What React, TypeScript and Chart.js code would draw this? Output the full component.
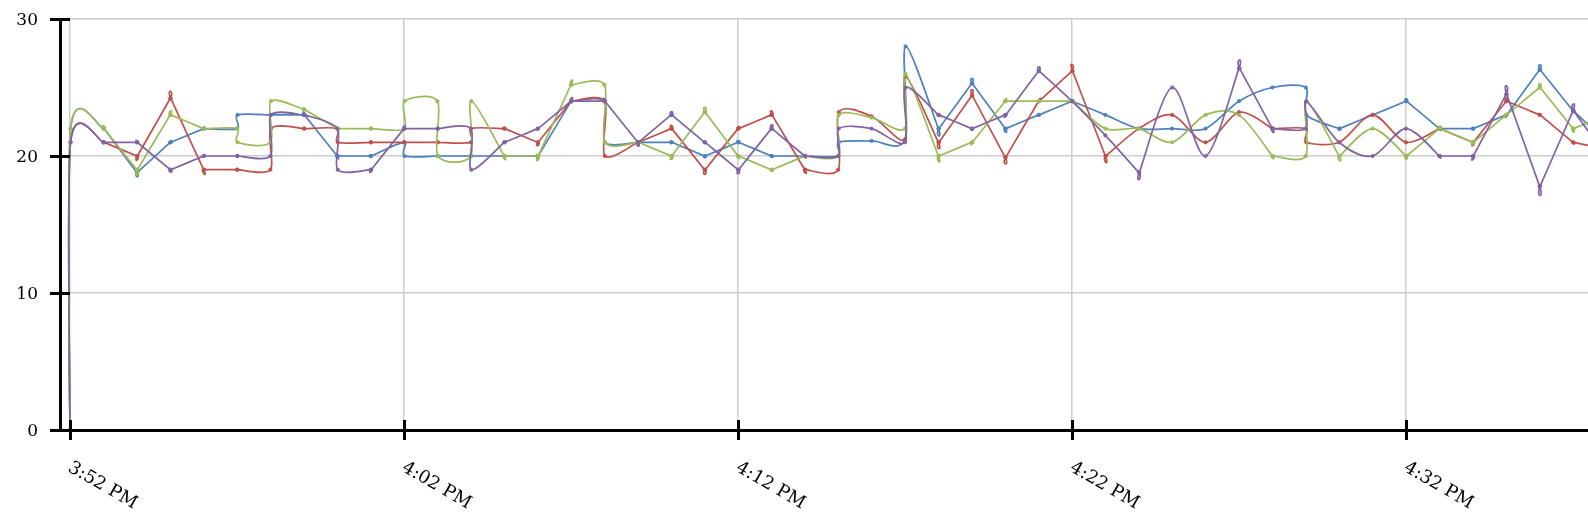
import React, { useEffect, useRef } from "react";
import { Chart, registerables } from "chart.js";

Chart.register(...registerables);

// One reading at the start of every minute, and (where present) a second reading one second later.
const timeLabels = [
  "3:52 PM", "3:53 PM", "3:54 PM", "3:55 PM", "3:56 PM", "3:57 PM", "3:58 PM", "3:59 PM",
  "4:00 PM", "4:01 PM", "4:02 PM", "4:03 PM", "4:04 PM", "4:05 PM", "4:06 PM", "4:07 PM",
  "4:08 PM", "4:09 PM", "4:10 PM", "4:11 PM", "4:12 PM", "4:13 PM", "4:14 PM", "4:15 PM",
  "4:16 PM", "4:17 PM", "4:18 PM", "4:19 PM", "4:20 PM", "4:21 PM", "4:22 PM", "4:23 PM",
  "4:24 PM", "4:25 PM", "4:26 PM", "4:27 PM", "4:28 PM", "4:29 PM", "4:30 PM", "4:31 PM",
  "4:32 PM", "4:33 PM", "4:34 PM", "4:35 PM", "4:36 PM", "4:37 PM", "4:38 PM",
];

const xTickLabels = ["3:52 PM", "4:02 PM", "4:12 PM", "4:22 PM", "4:32 PM"];
const yTickValues = [0, 10, 20, 30];

const blueFirst = [0, 22, 18.8, 21, 22, 22, 23, 23, 20, 20, 21, 20, 20, 20, 20, 24, 24, 21, 21, 20, 21, 20, 20, 20, 21.1, 21.2, 22, 25.3, 22, 23, 24, 23, 22, 22, 22, 24, 25, 25, 22, 23, 24, 22, 22, 23, 26.3, 23.3, 21];
const blueSecond = [22, 22, 18.8, 21, 22, 23, 23, 23, 20, 20, 20, 20, 20, 20, 20, 24, 21, 21, 21, 20, 21, 20, 20, 21, null, 28, 22, 25.3, 22, 23, 24, null, null, null, null, null, null, 23, 22, 23, 24, 22, 22, 23, 26.3, 23.3, null];

const redFirst = [0, 21, 20, 24.2, 19, 19, 19, 22, 22, 21, 21, 21, 21, 22, 21, 24, 24, 21, 22, 19, 22, 23, 19, 19, 22.9, 21.2, 21, 24.4, 19.9, 24, 26.2, 20, 22, 23, 21, 23.2, 22, 22, 21, 23, 21, 22, 21, 24, 23, 21, 20.5];
const redSecond = [21, 21, 20, 24.2, 19, 19, 22, 22, 21, 21, 21, 21, 22, 22, 21, 24, 20, 21, 22, 19, 22, 23, 19, 23.2, null, 25.8, 21, 24.4, 19.9, 24, 26.2, 20, null, null, null, null, 22, 21, null, null, null, 22, 21, 24, 23, 21, null];

const greenFirst = [0, 22, 19, 23, 22, 22, 21, 23.4, 22, 22, 22, 24, 20, 20, 20, 25.2, 25.2, 21, 20, 23.2, 20, 19, 20, 20, 22.8, 22, 20, 21, 24, 24, 24, 22, 22, 21, 23, 23, 20, 20, 20, 22, 20, 22, 21, 23, 25, 22, 23];
const greenSecond = [22, 22, 19, 23, 22, 21, 24, 23.4, 22, 22, 24, 20, 24, 20, 20, 25.2, 21, 21, 20, 23.2, 20, 19, 20, 23, null, 26, 20, 21, 24, 24, 24, null, null, null, null, null, 20, 24, 20, null, 20, 22, 21, 23, 25, 22, null];

const purpleFirst = [0, 21, 21, 19, 20, 20, 20, 23, 22, 19, 22, 22, 22, 21, 22, 24, 24, 21, 23, 21, 19, 22, 20, 20, 22, 21, 23, 22, 23, 26.2, 24, 21.5, 18.8, 25, 20, 26.4, 22, 22, 21, 20, 22, 20, 20, 24.5, 17.8, 23.3, 20];
const purpleSecond = [21, 21, 21, 19, 20, 20, 23, 23, 19, 19, 22, 22, 19, 21, 22, 24, 24, 21, 23, 21, 19, 22, 20, 22, null, 25, 23, 22, 23, 26.2, null, null, 18.8, null, null, 26.4, 22, 24, null, null, null, 20, 20, 24.5, 17.8, 23.3, null];

const seriesNames = ["Series 1", "Series 2", "Series 3", "Series 4"];
const seriesColors = ["#4F81BD", "#C0504D", "#9BBB59", "#8064A2"];

function toMinutes(label: string): number {
  const [time, ampm] = label.split(" ");
  const [h, m] = time.split(":").map(Number);
  const hh = (h % 12) + (ampm === "PM" ? 12 : 0);
  return hh * 60 + m;
}

const BASE = toMinutes(timeLabels[0]);
const SECOND = 1 / 60;

function buildPoints(first: number[], second: (number | null)[]) {
  const pts: { x: number; y: number }[] = [];
  timeLabels.forEach((t, i) => {
    const m = toMinutes(t) - BASE;
    pts.push({ x: m, y: first[i] });
    const s = second[i];
    if (s !== null && s !== undefined) pts.push({ x: m + SECOND, y: s });
  });
  return pts;
}

// Cardinal spline (tension 0.7) control points, computed from the points' pixel positions.
const cardinalPlugin = {
  id: "cardinalSpline",
  beforeDatasetDraw(chart: any, args: any) {
    const meta = args.meta;
    const line = meta.dataset;
    if (!line) return;
    line.updateControlPoints(chart.chartArea, meta.iScale ? meta.iScale.axis : "x");
    const pts = (meta.data as any[]).filter((p) => Number.isFinite(p.x) && Number.isFinite(p.y));
    const n = pts.length;
    if (n < 3) return;
    const a = 0.15;
    const tx = new Array(n).fill(0);
    const ty = new Array(n).fill(0);
    for (let i = 1; i < n - 1; i++) {
      tx[i] = a * (pts[i + 1].x - pts[i - 1].x);
      ty[i] = a * (pts[i + 1].y - pts[i - 1].y);
    }
    for (let i = 1; i < n - 1; i++) {
      const p = pts[i];
      p.cp1x = p.x - tx[i];
      p.cp1y = p.y - ty[i];
      p.cp2x = p.x + tx[i];
      p.cp2y = p.y + ty[i];
    }
    const p0 = pts[0];
    const p1 = pts[1];
    const qx = p1.x - (tx[1] * 2) / 3;
    const qy = p1.y - (ty[1] * 2) / 3;
    p0.cp1x = p0.x;
    p0.cp1y = p0.y;
    p0.cp2x = p0.x + (2 / 3) * (qx - p0.x);
    p0.cp2y = p0.y + (2 / 3) * (qy - p0.y);
    p1.cp1x = p1.x + (2 / 3) * (qx - p1.x);
    p1.cp1y = p1.y + (2 / 3) * (qy - p1.y);
    const pl = pts[n - 1];
    const pm = pts[n - 2];
    const lqx = pm.x + (tx[n - 2] * 2) / 3;
    const lqy = pm.y + (ty[n - 2] * 2) / 3;
    pm.cp2x = pm.x + (2 / 3) * (lqx - pm.x);
    pm.cp2y = pm.y + (2 / 3) * (lqy - pm.y);
    pl.cp1x = pl.x + (2 / 3) * (lqx - pl.x);
    pl.cp1y = pl.y + (2 / 3) * (lqy - pl.y);
    pl.cp2x = pl.x;
    pl.cp2y = pl.y;
  },
};

const FONT_FAMILY = "'DejaVu Serif', serif";

const axisDecorPlugin = {
  id: "axisDecor",
  afterDraw(chart: any) {
    const ctx = chart.ctx;
    const xs = chart.scales.x;
    const ys = chart.scales.y;
    const area = chart.chartArea;
    ctx.save();
    ctx.strokeStyle = "#000";
    ctx.lineWidth = 3;
    ctx.lineCap = "butt";
    ys.ticks.forEach((t: any) => {
      const y = Math.round(ys.getPixelForValue(t.value)) + 0.5;
      ctx.beginPath();
      ctx.moveTo(area.left - 10, y);
      ctx.lineTo(area.left + 10, y);
      ctx.stroke();
    });
    xs.ticks.forEach((t: any) => {
      const x = Math.round(xs.getPixelForValue(t.value)) + 0.5;
      ctx.beginPath();
      ctx.moveTo(x, area.bottom - 10);
      ctx.lineTo(x, area.bottom + 10);
      ctx.stroke();
    });
    ctx.fillStyle = "#000";
    ctx.font = `18px ${FONT_FAMILY}`;
    ctx.textAlign = "left";
    ctx.textBaseline = "alphabetic";
    xs.ticks.forEach((t: any, i: number) => {
      const x = xs.getPixelForValue(t.value);
      ctx.save();
      ctx.translate(x - 3, area.bottom + 40.5);
      ctx.rotate(Math.PI / 6);
      ctx.fillText(xTickLabels[i], 0, 0);
      ctx.restore();
    });
    ctx.restore();
  },
};

export default function App() {
  const canvasRef = useRef<HTMLCanvasElement | null>(null);

  useEffect(() => {
    const canvas = canvasRef.current;
    if (!canvas) return;
    const allFirst = [blueFirst, redFirst, greenFirst, purpleFirst];
    const allSecond = [blueSecond, redSecond, greenSecond, purpleSecond];
    const chart = new Chart(canvas, {
      type: "line",
      data: {
        datasets: seriesNames.map((name, i) => ({
          label: name,
          data: buildPoints(allFirst[i], allSecond[i]),
          borderColor: seriesColors[i],
          backgroundColor: seriesColors[i],
          borderWidth: 1.7,
          tension: 0.4,
          fill: false,
          pointRadius: 1.6,
          pointBorderWidth: 1,
          pointBorderColor: seriesColors[i],
          pointBackgroundColor: seriesColors[i],
          order: 4 - i,
        })),
      },
      options: {
        animation: false,
        responsive: false,
        devicePixelRatio: 1,
        layout: { autoPadding: false, padding: { top: 19, left: 0, right: 0, bottom: 0 } },
        plugins: {
          legend: { display: false },
          tooltip: { enabled: false },
        },
        scales: {
          x: {
            type: "linear",
            min: -0.3,
            max: 45.45,
            afterBuildTicks: (scale: any) => {
              scale.ticks = xTickLabels.map((l) => ({ value: toMinutes(l) - BASE }));
            },
            afterFit: (scale: any) => {
              scale.height = 100;
              scale.paddingLeft = 0;
              scale.paddingRight = 0;
            },
            ticks: { display: false },
            grid: { color: "#cdcdcd", lineWidth: 1.5, drawTicks: false },
            border: { display: true, color: "#000", width: 3 },
          },
          y: {
            type: "linear",
            min: 0,
            max: 30,
            afterBuildTicks: (scale: any) => {
              scale.ticks = yTickValues.map((v) => ({ value: v }));
            },
            afterFit: (scale: any) => {
              scale.width = 60;
              scale.paddingTop = 0;
              scale.paddingBottom = 0;
            },
            ticks: {
              color: "#000",
              padding: 22,
              labelOffset: 2,
              font: { family: FONT_FAMILY, size: 17 },
            },
            grid: { color: "#cdcdcd", lineWidth: 1.5, drawTicks: false },
            border: { display: true, color: "#000", width: 3 },
          },
        },
      },
      plugins: [cardinalPlugin, axisDecorPlugin],
    } as any);
    return () => chart.destroy();
  }, []);

  return (
    <div style={{ position: "absolute", left: 0, top: 0, width: 1588, height: 530, background: "#fff" }}>
      <canvas ref={canvasRef} width={1588} height={530} style={{ display: "block" }} />
    </div>
  );
}
